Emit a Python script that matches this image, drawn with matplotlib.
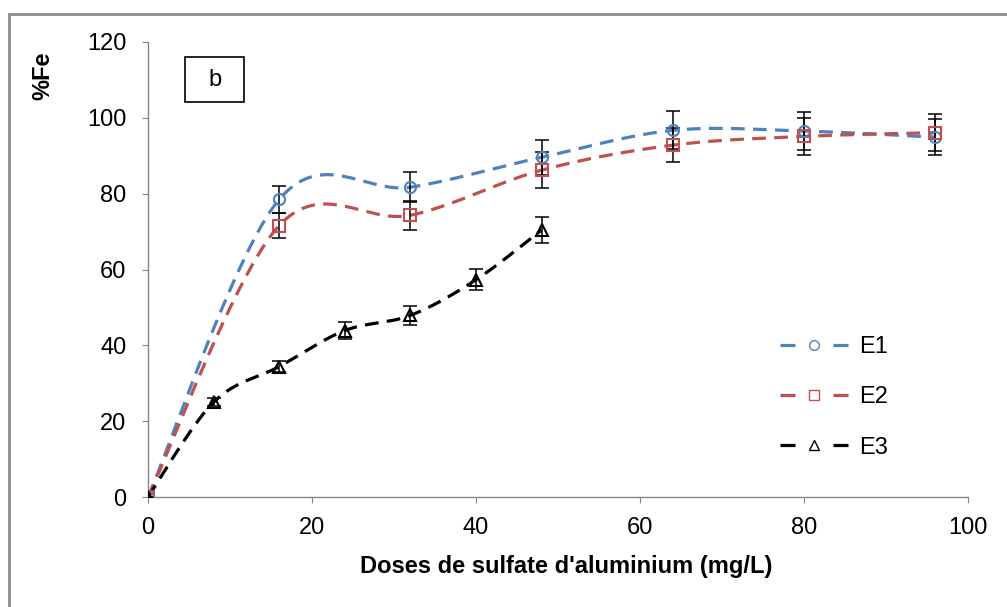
import numpy as np
import matplotlib.pyplot as plt
from matplotlib.lines import Line2D
from matplotlib.patches import Rectangle

plt.rcParams['font.family'] = ['Liberation Sans', 'DejaVu Sans']

# data
dose_e12 = [0, 16, 32, 48, 64, 80, 96]
fe_e1 = [0, 78.5, 81.7, 89.6, 96.7, 96.5, 94.9]
err_e1 = [0, 3.6, 4.0, 4.6, 5.0, 5.0, 4.8]
fe_e2 = [0, 71.6, 74.3, 86.2, 92.8, 95.1, 96.1]
err_e2 = [0, 3.4, 3.8, 4.8, 4.5, 4.9, 4.8]

dose_e3 = [0, 8, 16, 24, 32, 40, 48]
fe_e3 = [0, 25.0, 34.4, 43.9, 47.9, 57.3, 70.4]
err_e3 = [0, 1.0, 1.5, 2.2, 2.6, 2.8, 3.5]

W, H = 1007, 607


def smooth(xs, ys, n=40):
    # excel-like smoothed line (bezier through the points)
    p = np.column_stack([xs, ys]).astype(float)
    pts = [p[0]]
    for i in range(len(p) - 1):
        p0 = p[i - 1] if i > 0 else p[i]
        p3 = p[i + 2] if i + 2 < len(p) else p[i + 1]
        c1 = p[i] + (p[i + 1] - p0) / 6
        c2 = p[i + 1] - (p3 - p[i]) / 6
        t = np.linspace(0, 1, n)[1:, None]
        seg = ((1 - t) ** 3 * p[i] + 3 * (1 - t) ** 2 * t * c1
               + 3 * (1 - t) * t ** 2 * c2 + t ** 3 * p[i + 1])
        pts.extend(seg)
    pts = np.array(pts)
    return pts[:, 0], pts[:, 1]


fig = plt.figure(figsize=(W / 100, H / 100), dpi=100)
ax = fig.add_axes([148 / W, 1 - 497 / H, (968 - 148) / W, (497 - 42) / H])

series = [
    (dose_e12, fe_e1, err_e1, '#4F81BD', 'o', 'E1'),
    (dose_e12, fe_e2, err_e2, '#C0504D', 's', 'E2'),
    (dose_e3, fe_e3, err_e3, 'black', '^', 'E3'),
]

dash = (4.3, 2.6)
handles = []
for xs, ys, es, col, mk, lab in series:
    sx, sy = smooth(xs, ys)
    ax.plot(sx, sy, color=col, lw=2.3, dashes=dash, zorder=3)
    ax.errorbar(xs, ys, yerr=es, fmt='none', ecolor='black', elinewidth=1.1,
                capsize=4.7, capthick=1.1, zorder=4)
    ax.plot(xs, ys, ls='none', marker=mk, ms=8, mfc='none', mec=col,
            mew=1.5, zorder=5)
    # legend: dash - marker - dash
    handles.append(Line2D([], [], color=col, lw=2.3, dashes=(4.7, 11.9),
                          marker=mk, ms=7, mfc='none', mec=col, mew=1.0,
                          label=lab))

ax.set_xlim(0, 100)
ax.set_ylim(0, 120)
ax.set_xticks(range(0, 101, 20))
ax.set_yticks(range(0, 121, 20))
for s in ['top', 'right']:
    ax.spines[s].set_visible(False)
for s in ['left', 'bottom']:
    ax.spines[s].set_color('#868686')
    ax.spines[s].set_linewidth(1.0)
ax.tick_params(axis='both', direction='out', length=4.5, color='#868686',
               labelsize=17)
ax.tick_params(axis='y', pad=11)
ax.tick_params(axis='x', pad=10)

fig.text(566 / W, 1 - 567 / H, "Doses de sulfate d'aluminium (mg/L)",
         ha='center', va='center', fontsize=17, fontweight='bold')
fig.text(43 / W, 1 - 76 / H, '%Fe', rotation=90, ha='center', va='center',
         fontsize=17, fontweight='bold')

# panel label box
fig.patches.append(Rectangle((185 / W, 1 - 102 / H), 59 / W, 45 / H,
                             transform=fig.transFigure, fill=False,
                             edgecolor='black', lw=1.2))
fig.text(214.5 / W, 1 - 79.5 / H, 'b', ha='center', va='center', fontsize=17)

# outer frame
fig.patches.append(Rectangle((9 / W, -0.1), 1.2, 1 - 14 / H + 0.1,
                             transform=fig.transFigure, fill=False,
                             edgecolor='#8c8c8c', lw=2))

ax.legend(handles=handles, loc='upper left',
          bbox_to_anchor=(780 / W, 1 - 336 / H),
          bbox_transform=fig.transFigure, frameon=False, fontsize=17,
          handlelength=2.9, handletextpad=0.45, labelspacing=1.2,
          borderpad=0, borderaxespad=0)

fig.savefig('out.png', dpi=100)
